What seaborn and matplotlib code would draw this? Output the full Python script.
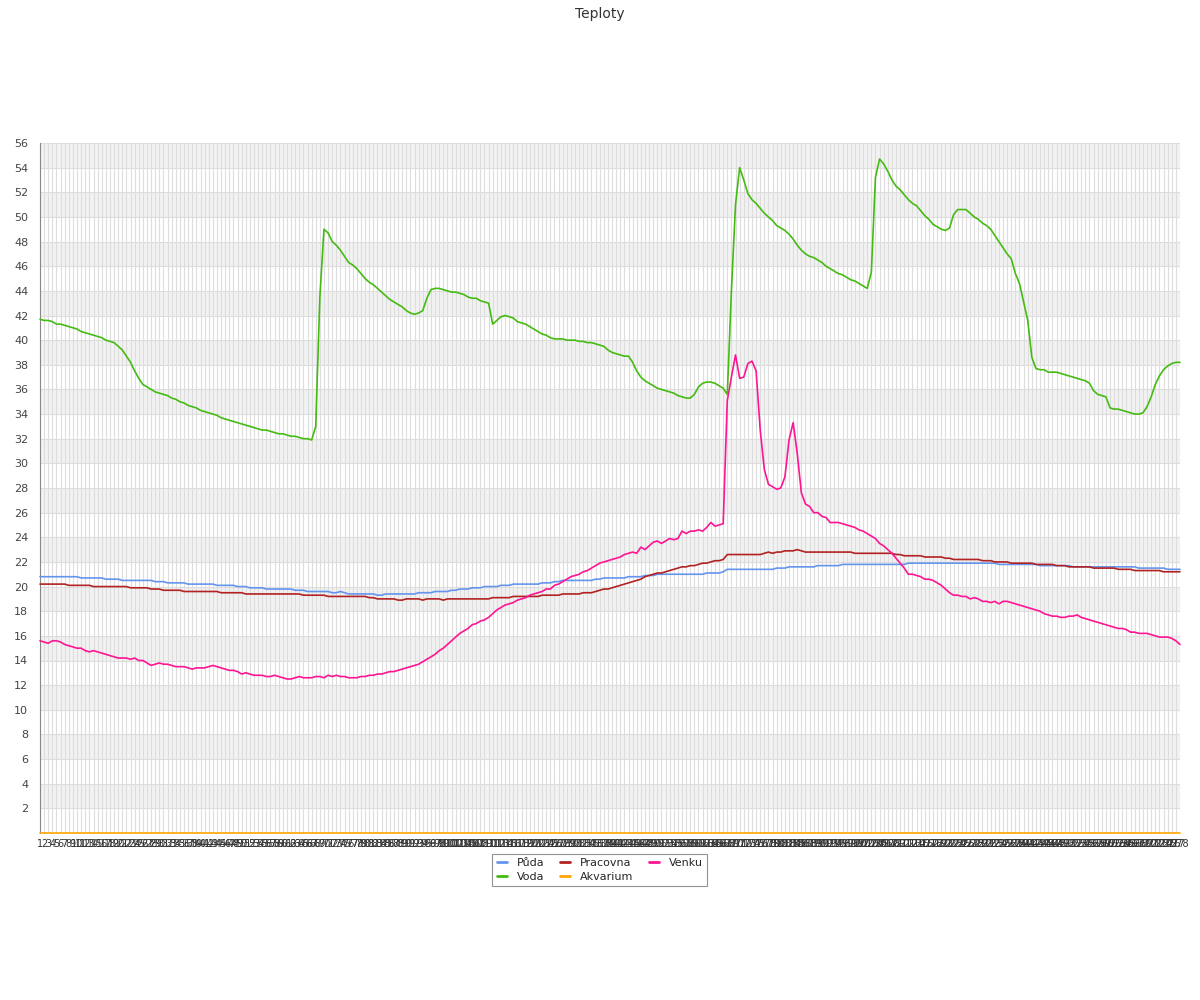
import matplotlib
matplotlib.use("Agg")
import matplotlib.pyplot as plt
import seaborn as sns
import pandas as pd
from matplotlib.lines import Line2D

# measurement index 1..278
labels = [str(n) for n in range(1, 279)]

puda = [
    20.8, 20.8, 20.8, 20.8, 20.8, 20.8, 20.8, 20.8, 20.8, 20.8,
    20.7, 20.7, 20.7, 20.7, 20.7, 20.7, 20.6, 20.6, 20.6, 20.6,
    20.5, 20.5, 20.5, 20.5, 20.5, 20.5, 20.5, 20.5, 20.4, 20.4,
    20.4, 20.3, 20.3, 20.3, 20.3, 20.3, 20.2, 20.2, 20.2, 20.2,
    20.2, 20.2, 20.2, 20.1, 20.1, 20.1, 20.1, 20.1, 20.0, 20.0,
    20.0, 19.9, 19.9, 19.9, 19.9, 19.8, 19.8, 19.8, 19.8, 19.8,
    19.8, 19.8, 19.7, 19.7, 19.7, 19.6, 19.6, 19.6, 19.6, 19.6,
    19.6, 19.5, 19.5, 19.6, 19.5, 19.4, 19.4, 19.4, 19.4, 19.4,
    19.4, 19.4, 19.3, 19.3, 19.4, 19.4, 19.4, 19.4, 19.4, 19.4,
    19.4, 19.4, 19.5, 19.5, 19.5, 19.5, 19.6, 19.6, 19.6, 19.6,
    19.7, 19.7, 19.8, 19.8, 19.8, 19.9, 19.9, 19.9, 20.0, 20.0,
    20.0, 20.0, 20.1, 20.1, 20.1, 20.2, 20.2, 20.2, 20.2, 20.2,
    20.2, 20.2, 20.3, 20.3, 20.3, 20.4, 20.4, 20.5, 20.5, 20.5,
    20.5, 20.5, 20.5, 20.5, 20.5, 20.6, 20.6, 20.7, 20.7, 20.7,
    20.7, 20.7, 20.7, 20.8, 20.8, 20.8, 20.8, 20.9, 20.9, 20.9,
    21.0, 21.0, 21.0, 21.0, 21.0, 21.0, 21.0, 21.0, 21.0, 21.0,
    21.0, 21.0, 21.1, 21.1, 21.1, 21.1, 21.2, 21.4, 21.4, 21.4,
    21.4, 21.4, 21.4, 21.4, 21.4, 21.4, 21.4, 21.4, 21.4, 21.5,
    21.5, 21.5, 21.6, 21.6, 21.6, 21.6, 21.6, 21.6, 21.6, 21.7,
    21.7, 21.7, 21.7, 21.7, 21.7, 21.8, 21.8, 21.8, 21.8, 21.8,
    21.8, 21.8, 21.8, 21.8, 21.8, 21.8, 21.8, 21.8, 21.8, 21.8,
    21.8, 21.9, 21.9, 21.9, 21.9, 21.9, 21.9, 21.9, 21.9, 21.9,
    21.9, 21.9, 21.9, 21.9, 21.9, 21.9, 21.9, 21.9, 21.9, 21.9,
    21.9, 21.9, 21.9, 21.8, 21.8, 21.8, 21.8, 21.8, 21.8, 21.8,
    21.8, 21.8, 21.8, 21.7, 21.7, 21.7, 21.7, 21.7, 21.7, 21.7,
    21.7, 21.6, 21.6, 21.6, 21.6, 21.6, 21.6, 21.6, 21.6, 21.6,
    21.6, 21.6, 21.6, 21.6, 21.6, 21.6, 21.6, 21.5, 21.5, 21.5,
    21.5, 21.5, 21.5, 21.5, 21.4, 21.4, 21.4, 21.4,
]

pracovna = [
    20.2, 20.2, 20.2, 20.2, 20.2, 20.2, 20.2, 20.1, 20.1, 20.1,
    20.1, 20.1, 20.1, 20.0, 20.0, 20.0, 20.0, 20.0, 20.0, 20.0,
    20.0, 20.0, 19.9, 19.9, 19.9, 19.9, 19.9, 19.8, 19.8, 19.8,
    19.7, 19.7, 19.7, 19.7, 19.7, 19.6, 19.6, 19.6, 19.6, 19.6,
    19.6, 19.6, 19.6, 19.6, 19.5, 19.5, 19.5, 19.5, 19.5, 19.5,
    19.4, 19.4, 19.4, 19.4, 19.4, 19.4, 19.4, 19.4, 19.4, 19.4,
    19.4, 19.4, 19.4, 19.4, 19.3, 19.3, 19.3, 19.3, 19.3, 19.3,
    19.2, 19.2, 19.2, 19.2, 19.2, 19.2, 19.2, 19.2, 19.2, 19.2,
    19.1, 19.1, 19.0, 19.0, 19.0, 19.0, 19.0, 18.9, 18.9, 19.0,
    19.0, 19.0, 19.0, 18.9, 19.0, 19.0, 19.0, 19.0, 18.9, 19.0,
    19.0, 19.0, 19.0, 19.0, 19.0, 19.0, 19.0, 19.0, 19.0, 19.0,
    19.1, 19.1, 19.1, 19.1, 19.1, 19.2, 19.2, 19.2, 19.2, 19.2,
    19.2, 19.2, 19.3, 19.3, 19.3, 19.3, 19.3, 19.4, 19.4, 19.4,
    19.4, 19.4, 19.5, 19.5, 19.5, 19.6, 19.7, 19.8, 19.8, 19.9,
    20.0, 20.1, 20.2, 20.3, 20.4, 20.5, 20.6, 20.8, 20.9, 21.0,
    21.1, 21.1, 21.2, 21.3, 21.4, 21.5, 21.6, 21.6, 21.7, 21.7,
    21.8, 21.9, 21.9, 22.0, 22.1, 22.1, 22.2, 22.6, 22.6, 22.6,
    22.6, 22.6, 22.6, 22.6, 22.6, 22.6, 22.7, 22.8, 22.7, 22.8,
    22.8, 22.9, 22.9, 22.9, 23.0, 22.9, 22.8, 22.8, 22.8, 22.8,
    22.8, 22.8, 22.8, 22.8, 22.8, 22.8, 22.8, 22.8, 22.7, 22.7,
    22.7, 22.7, 22.7, 22.7, 22.7, 22.7, 22.7, 22.7, 22.6, 22.6,
    22.5, 22.5, 22.5, 22.5, 22.5, 22.4, 22.4, 22.4, 22.4, 22.4,
    22.3, 22.3, 22.2, 22.2, 22.2, 22.2, 22.2, 22.2, 22.2, 22.1,
    22.1, 22.1, 22.0, 22.0, 22.0, 22.0, 21.9, 21.9, 21.9, 21.9,
    21.9, 21.9, 21.8, 21.8, 21.8, 21.8, 21.8, 21.7, 21.7, 21.7,
    21.6, 21.6, 21.6, 21.6, 21.6, 21.6, 21.5, 21.5, 21.5, 21.5,
    21.5, 21.5, 21.4, 21.4, 21.4, 21.4, 21.3, 21.3, 21.3, 21.3,
    21.3, 21.3, 21.3, 21.2, 21.2, 21.2, 21.2, 21.2,
]

venku = [
    15.6, 15.5, 15.4, 15.6, 15.6, 15.5, 15.3, 15.2, 15.1, 15.0,
    15.0, 14.8, 14.7, 14.8, 14.7, 14.6, 14.5, 14.4, 14.3, 14.2,
    14.2, 14.2, 14.1, 14.2, 14.0, 14.0, 13.8, 13.6, 13.7, 13.8,
    13.7, 13.7, 13.6, 13.5, 13.5, 13.5, 13.4, 13.3, 13.4, 13.4,
    13.4, 13.5, 13.6, 13.5, 13.4, 13.3, 13.2, 13.2, 13.1, 12.9,
    13.0, 12.9, 12.8, 12.8, 12.8, 12.7, 12.7, 12.8, 12.7, 12.6,
    12.5, 12.5, 12.6, 12.7, 12.6, 12.6, 12.6, 12.7, 12.7, 12.6,
    12.8, 12.7, 12.8, 12.7, 12.7, 12.6, 12.6, 12.6, 12.7, 12.7,
    12.8, 12.8, 12.9, 12.9, 13.0, 13.1, 13.1, 13.2, 13.3, 13.4,
    13.5, 13.6, 13.7, 13.9, 14.1, 14.3, 14.5, 14.8, 15.0, 15.3,
    15.6, 15.9, 16.2, 16.4, 16.6, 16.9, 17.0, 17.2, 17.3, 17.5,
    17.8, 18.1, 18.3, 18.5, 18.6, 18.7, 18.9, 19.0, 19.1, 19.3,
    19.4, 19.5, 19.6, 19.8, 19.8, 20.1, 20.2, 20.4, 20.6, 20.8,
    20.9, 21.0, 21.2, 21.3, 21.5, 21.7, 21.9, 22.0, 22.1, 22.2,
    22.3, 22.4, 22.6, 22.7, 22.8, 22.7, 23.2, 23.0, 23.3, 23.6,
    23.7, 23.5, 23.7, 23.9, 23.8, 23.9, 24.5, 24.3, 24.5, 24.5,
    24.6, 24.5, 24.8, 25.2, 24.9, 25.0, 25.1, 35.1, 37.0, 38.8,
    36.9, 37.0, 38.1, 38.3, 37.5, 32.7, 29.5, 28.3, 28.1, 27.9,
    28.0, 28.9, 31.9, 33.3, 30.8, 27.6, 26.7, 26.5, 26.0, 26.0,
    25.7, 25.6, 25.2, 25.2, 25.2, 25.1, 25.0, 24.9, 24.8, 24.6,
    24.5, 24.3, 24.1, 23.9, 23.5, 23.3, 23.0, 22.7, 22.3, 21.9,
    21.5, 21.0, 21.0, 20.9, 20.8, 20.6, 20.6, 20.5, 20.3, 20.1,
    19.8, 19.5, 19.3, 19.3, 19.2, 19.2, 19.0, 19.1, 19.0, 18.8,
    18.8, 18.7, 18.8, 18.6, 18.8, 18.8, 18.7, 18.6, 18.5, 18.4,
    18.3, 18.2, 18.1, 18.0, 17.8, 17.7, 17.6, 17.6, 17.5, 17.5,
    17.6, 17.6, 17.7, 17.5, 17.4, 17.3, 17.2, 17.1, 17.0, 16.9,
    16.8, 16.7, 16.6, 16.6, 16.5, 16.3, 16.3, 16.2, 16.2, 16.2,
    16.1, 16.0, 15.9, 15.9, 15.9, 15.8, 15.6, 15.3,
]

voda = [
    41.7, 41.6, 41.6, 41.5, 41.3, 41.3, 41.2, 41.1, 41.0, 40.9,
    40.7, 40.6, 40.5, 40.4, 40.3, 40.2, 40.0, 39.9, 39.8, 39.5,
    39.2, 38.7, 38.2, 37.5, 36.9, 36.4, 36.2, 36.0, 35.8, 35.7,
    35.6, 35.5, 35.3, 35.2, 35.0, 34.9, 34.7, 34.6, 34.5, 34.3,
    34.2, 34.1, 34.0, 33.9, 33.7, 33.6, 33.5, 33.4, 33.3, 33.2,
    33.1, 33.0, 32.9, 32.8, 32.7, 32.7, 32.6, 32.5, 32.4, 32.4,
    32.3, 32.2, 32.2, 32.1, 32.0, 32.0, 31.9, 33.0, 43.5, 49.0,
    48.7, 48.0, 47.7, 47.3, 46.8, 46.3, 46.1, 45.8, 45.4, 45.0,
    44.7, 44.5, 44.2, 43.9, 43.6, 43.3, 43.1, 42.9, 42.7, 42.4,
    42.2, 42.1, 42.2, 42.4, 43.4, 44.1, 44.2, 44.2, 44.1, 44.0,
    43.9, 43.9, 43.8, 43.7, 43.5, 43.4, 43.4, 43.2, 43.1, 43.0,
    41.3, 41.6, 41.9, 42.0, 41.9, 41.8, 41.5, 41.4, 41.3, 41.1,
    40.9, 40.7, 40.5, 40.4, 40.2, 40.1, 40.1, 40.1, 40.0, 40.0,
    40.0, 39.9, 39.9, 39.8, 39.8, 39.7, 39.6, 39.5, 39.2, 39.0,
    38.9, 38.8, 38.7, 38.7, 38.2, 37.5, 37.0, 36.7, 36.5, 36.3,
    36.1, 36.0, 35.9, 35.8, 35.7, 35.5, 35.4, 35.3, 35.3, 35.6,
    36.2, 36.5, 36.6, 36.6, 36.5, 36.3, 36.1, 35.6, 44.0, 51.0,
    54.0, 53.0, 51.9, 51.4, 51.1, 50.7, 50.3, 50.0, 49.7, 49.3,
    49.1, 48.9, 48.6, 48.2, 47.7, 47.3, 47.0, 46.8, 46.7, 46.5,
    46.3, 46.0, 45.8, 45.6, 45.4, 45.3, 45.1, 44.9, 44.8, 44.6,
    44.4, 44.2, 45.5, 53.2, 54.7, 54.3, 53.7, 53.0, 52.5, 52.2,
    51.8, 51.4, 51.1, 50.9, 50.5, 50.1, 49.8, 49.4, 49.2, 49.0,
    48.9, 49.1, 50.2, 50.6, 50.6, 50.6, 50.3, 50.0, 49.8, 49.5,
    49.3, 49.0, 48.5, 48.0, 47.5, 47.0, 46.6, 45.4, 44.6, 43.1,
    41.6, 38.6, 37.7, 37.6, 37.6, 37.4, 37.4, 37.4, 37.3, 37.2,
    37.1, 37.0, 36.9, 36.8, 36.7, 36.5, 35.9, 35.6, 35.5, 35.4,
    34.5, 34.4, 34.4, 34.3, 34.2, 34.1, 34.0, 34.0, 34.1, 34.6,
    35.4, 36.4, 37.1, 37.6, 37.9, 38.1, 38.2, 38.2,
]

akvarium = [0.0] * len(labels)

series_names = ["Půda", "Pracovna", "Venku", "Voda", "Akvarium"]
colors = {
    "Půda": "#6495ed",
    "Pracovna": "#b22222",
    "Venku": "#ff1493",
    "Voda": "#44bb11",
    "Akvarium": "#ffa500",
}

df = pd.DataFrame({
    "idx": list(range(len(labels))) * 5,
    "value": puda + pracovna + venku + voda + akvarium,
    "series": sum([[name] * len(labels) for name in series_names], []),
})

sns.set_style("white")
plt.rcParams["font.family"] = ["DejaVu Sans"]

fig = plt.figure(figsize=(12, 10), dpi=100)
ax = fig.add_axes([40 / 1200, 167 / 1000, 1140 / 1200, 690 / 1000])

# alternating bands
for lo in range(2, 56, 4):
    ax.axhspan(lo, lo + 2, color="#f2f2f2", zorder=0, lw=0)

sns.lineplot(data=df, x="idx", y="value", hue="series", hue_order=series_names,
             palette=colors, linewidth=1.2, ax=ax, legend=False, zorder=3)
for ln in ax.lines:
    ln.set_clip_on(False)

ax.set_xlim(0, len(labels) - 1)
ax.set_ylim(0, 56)
ax.set_xticks(range(len(labels)))
ax.set_xticklabels(labels, fontsize=7, color="#333333")
ax.set_yticks(range(2, 57, 2))
ax.set_yticks(range(1, 56, 2), minor=True)
ax.tick_params(axis="y", which="major", labelsize=8, labelcolor="#444444",
               length=5, color="#888888", width=0.8)
ax.tick_params(axis="y", which="minor", length=3, color="#888888", width=0.8)
ax.tick_params(axis="x", length=0, pad=4)
ax.grid(True, axis="both", which="major", color="#dddddd", linewidth=0.8, zorder=1)
ax.set_axisbelow(True)
ax.set_xlabel("")
ax.set_ylabel("")
for side in ["top", "right", "bottom"]:
    ax.spines[side].set_visible(False)
ax.spines["left"].set_color("#888888")
ax.spines["left"].set_linewidth(0.8)

fig.suptitle("Teploty", y=0.993, fontsize=10, color="#333333")

order = ["Půda", "Voda", "Pracovna", "Akvarium", "Venku"]
handles = [Line2D([], [], color=colors[n], lw=2) for n in order]
leg = ax.legend(handles, order, loc="upper center", bbox_to_anchor=(0.491, -0.022),
                ncol=3, fontsize=8, frameon=True, fancybox=False, handlelength=0.9,
                columnspacing=1.4, handletextpad=0.9, borderpad=0.4, labelspacing=0.3)
leg.get_frame().set_edgecolor("#777777")
leg.get_frame().set_linewidth(0.8)

fig.savefig("out.png", dpi=100)
